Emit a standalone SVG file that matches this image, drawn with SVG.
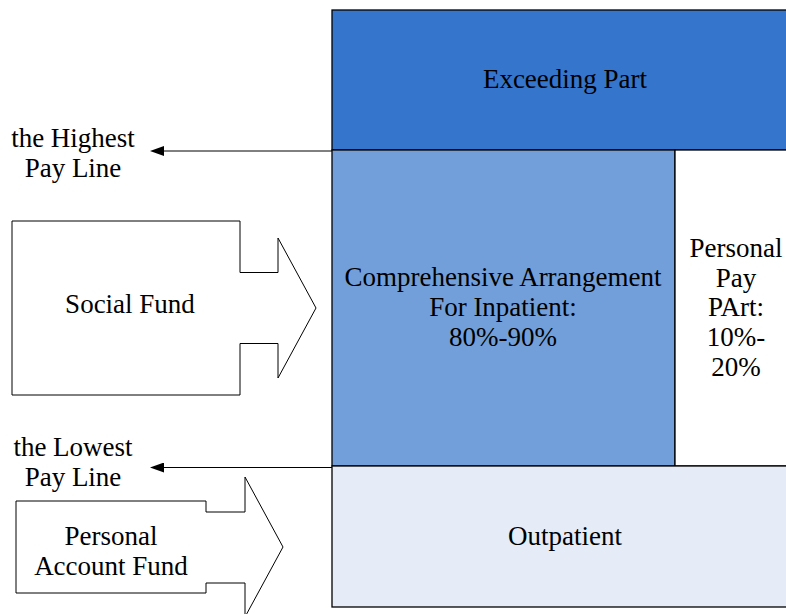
<svg xmlns="http://www.w3.org/2000/svg" width="786" height="614" viewBox="0 0 786 614">
<style>
text{font-family:"Liberation Serif","Times New Roman",serif;font-size:27px;fill:#000;text-anchor:middle}
.b{stroke:#000;stroke-width:1.3}
.c{stroke:#000;stroke-width:1;fill:none}
</style>
<defs>
<marker id="ah" markerWidth="14" markerHeight="10" refX="0" refY="5" orient="auto-start-reverse" markerUnits="userSpaceOnUse">
<path d="M0,0 L14,5 L0,10 Z" fill="#000"/>
</marker>
</defs>
<rect width="786" height="614" fill="#fff"/>
<g id="exceeding">
<rect class="b" x="332" y="10" width="460" height="140" fill="#3575CC"/>
<text x="565" y="88">Exceeding Part</text>
</g>
<g id="comprehensive">
<rect class="b" x="332" y="150" width="343" height="316" fill="#729FDA"/>
<text x="503" y="286">Comprehensive Arrangement</text>
<text x="503" y="316">For Inpatient:</text>
<text x="503" y="346">80%-90%</text>
</g>
<g id="personal-pay">
<rect class="b" x="675" y="150" width="117" height="316" fill="#fff"/>
<text x="736" y="257">Personal</text>
<text x="736" y="287">Pay</text>
<text x="736" y="316">PArt:</text>
<text x="736" y="346">10%-</text>
<text x="736" y="376">20%</text>
</g>
<g id="outpatient">
<rect class="b" x="332" y="466" width="460" height="141" fill="#E5ECF7"/>
<text x="565" y="545">Outpatient</text>
</g>
<g id="highest-label">
<text x="73" y="147">the Highest</text>
<text x="73" y="177">Pay Line</text>
</g>
<g id="lowest-label">
<text x="73" y="456">the Lowest</text>
<text x="73" y="486">Pay Line</text>
</g>
<g id="social-fund">
<path class="c" fill="#fff" d="M12,221 H240 V272.5 H278 V238 L316,308 L278,378 V343.5 H240 V395 H12 Z"/>
<text x="130" y="313">Social Fund</text>
</g>
<g id="personal-account-fund">
<path class="c" fill="#fff" d="M16,501 H206 V512 H245 V477 L283,547 L245,617 V583 H206 V593 H16 Z"/>
<text x="111" y="545">Personal</text>
<text x="111" y="575">Account Fund</text>
</g>
<g id="connectors">
<line class="c" x1="332" y1="151" x2="164" y2="151" marker-end="url(#ah)"/>
<line class="c" x1="332" y1="467.5" x2="164" y2="467.5" marker-end="url(#ah)"/>
</g>
</svg>
